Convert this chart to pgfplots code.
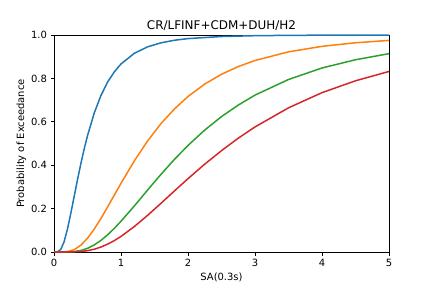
\documentclass[border=0pt]{standalone}
\usepackage{pgfplots}
\pgfplotsset{compat=1.18}
\usepackage{fontspec}
\setmainfont{DejaVu Sans}
\definecolor{tabblue}{HTML}{1F77B4}
\definecolor{taborange}{HTML}{FF7F0E}
\definecolor{tabgreen}{HTML}{2CA02C}
\definecolor{tabred}{HTML}{D62728}
\begin{document}
\begin{tikzpicture}
\begin{axis}[
  name=ax,
  scale only axis,
  width=335bp, height=217bp,
  xmin=0, xmax=5, ymin=0, ymax=1,
  xtick={0,1,2,3,4,5},
  ytick={0,0.2,0.4,0.6,0.8,1.0},
  /pgf/number format/assume math mode=true,
  yticklabel style={/pgf/number format/fixed,/pgf/number format/fixed zerofill,/pgf/number format/precision=1},
  xticklabel style={/pgf/number format/fixed,/pgf/number format/precision=0},
  tick align=outside,
  xtick pos=bottom, ytick pos=left,
  major tick length=3.5bp,
  every tick/.style={black, line width=0.8bp},
  axis line style={line width=0.8bp},
  tick label style={font=\fontsize{10}{12}\selectfont},
  label style={font=\fontsize{10}{12}\selectfont},
  ylabel style={yshift=-2bp},
  title style={font=\fontsize{12}{14}\selectfont, yshift=-5bp},
  title={CR/LFINF+CDM+DUH/H2},
  xlabel={SA(0.3s)},
  ylabel={Probability of Exceedance},
  every axis plot/.append style={line width=1.5bp, no markers, line join=round},
]
\addplot[tabblue] coordinates {
(0,0) (0.05,0.0005) (0.1,0.0114) (0.15,0.0465) (0.2,0.1046) (0.25,0.1767) (0.3,0.2546) (0.35,0.332) (0.4,0.406) (0.45,0.4745) (0.5,0.536) (0.6,0.640) (0.7,0.721) (0.8,0.783) (0.9,0.830) (1.0,0.8666) (1.2,0.9159) (1.4,0.9458) (1.6,0.9642) (1.8,0.9759) (2.0,0.9834) (2.5,0.9930) (3.0,0.9968) (3.5,0.9984) (4.0,0.9992) (5.0,0.9997)
};
\addplot[taborange] coordinates {
(0,0) (0.1,0.00004) (0.2,0.0018) (0.3,0.0107) (0.4,0.031) (0.5,0.0634) (0.6,0.1055) (0.7,0.1544) (0.8,0.2075) (0.9,0.2623) (1.0,0.3167) (1.2,0.4204) (1.4,0.513) (1.6,0.593) (1.8,0.660) (2.0,0.7167) (2.25,0.774) (2.5,0.819) (2.75,0.8545) (3.0,0.8826) (3.5,0.9224) (4.0,0.9477) (4.5,0.9642) (5.0,0.9751)
};
\addplot[tabgreen] coordinates {
(0,0) (0.2,0.0002) (0.3,0.0019) (0.4,0.0069) (0.5,0.0169) (0.6,0.0324) (0.7,0.0533) (0.8,0.0791) (0.9,0.109) (1.0,0.1417) (1.2,0.2127) (1.4,0.2867) (1.6,0.359) (1.8,0.4277) (2.0,0.491) (2.25,0.562) (2.5,0.624) (2.75,0.677) (3.0,0.723) (3.5,0.795) (4.0,0.848) (4.5,0.886) (5.0,0.914)
};
\addplot[tabred] coordinates {
(0,0) (0.2,0.00005) (0.4,0.0022) (0.5,0.0061) (0.6,0.0128) (0.7,0.0228) (0.8,0.0361) (0.9,0.0525) (1.0,0.0718) (1.2,0.1176) (1.4,0.1698) (1.6,0.2254) (1.8,0.282) (2.0,0.338) (2.25,0.405) (2.5,0.467) (2.75,0.5245) (3.0,0.5763) (3.5,0.6644) (4.0,0.7343) (4.5,0.789) (5.0,0.832)
};
\end{axis}
\path[use as bounding box] ([xshift=-54bp,yshift=-36bp]ax.south west) rectangle ([xshift=43bp,yshift=35bp]ax.north east);
\end{tikzpicture}
\end{document}
